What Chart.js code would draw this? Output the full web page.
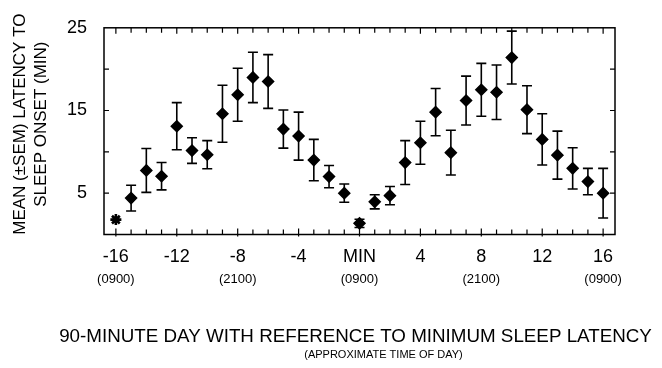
<!DOCTYPE html>
<html>
<head>
<meta charset="utf-8">
<title>Sleep latency</title>
<script src="https://cdn.jsdelivr.net/npm/chart.js@4.4.1/dist/chart.umd.min.js"></script>
<style>
    html, body { margin: 0; padding: 0; background: #fff; }
    #wrap { position: relative; width: 662px; height: 368px; }
</style>
</head>
<body>
<div id="wrap"><canvas id="latencyChart"></canvas></div>
<script>
// 90-minute days relative to the minimum
var days = [ -16, -15, -14, -13, -12, -11, -10, -9, -8, -7, -6, -5, -4, -3, -2, -1, 0,
             1, 2, 3, 4, 5, 6, 7, 8, 9, 10, 11, 12, 13, 14, 15, 16 ];
// mean latency to sleep onset (min)
var latency = [ 1.8, 4.4, 7.75, 7.05, 13.1, 10.15, 9.65, 14.6, 16.9, 19.0, 18.5, 12.75, 11.9, 9.0, 7.0, 5.0, 1.35,
                3.95, 4.7, 8.7, 11.1, 14.8, 9.9, 16.2, 17.5, 17.2, 21.4, 15.1, 11.5, 9.6, 8.0, 6.4, 5.0 ];
// +/- SEM
var sem = [ 0, 1.55, 2.65, 1.65, 2.85, 1.55, 1.7, 3.45, 3.2, 3.05, 3.25, 2.3, 2.9, 2.5, 1.35, 1.1, 0.5,
            0.85, 1.1, 2.65, 2.6, 2.85, 2.7, 2.95, 3.2, 3.3, 3.2, 2.9, 3.1, 2.9, 2.5, 1.6, 3.0 ];

var dayTicks = [ -16, -12, -8, -4, 0, 4, 8, 12, 16 ];
var dayLabels = [ "-16", "-12", "-8", "-4", "MIN", "4", "8", "12", "16" ];
var clockTicks = [ -16, -8, 0, 8, 16 ];
var clockLabels = [ "(0900)", "(2100)", "(0900)", "(2100)", "(0900)" ];
var latencyTicks = [ 5, 15, 25 ];

var xTitle = "90-MINUTE DAY WITH REFERENCE TO MINIMUM SLEEP LATENCY";
var xSubtitle = "(APPROXIMATE TIME OF DAY)";
var yTitle = [ "MEAN (\u00b1SEM) LATENCY TO", "SLEEP ONSET (MIN)" ];

( function () {
    "use strict";

    var FONT = "'Liberation Sans', Arial, Helvetica, sans-serif";

    var points = days.map( function ( d, i ) {
        return { x: d, y: latency[ i ] };
    } );
    var styles = days.map( function ( d, i ) {
        return sem[ i ] === 0 ? 'star' : 'rectRot';
    } );
    var borders = days.map( function ( d, i ) {
        return sem[ i ] === 0 ? 2.6 : 1.5;
    } );

    // error bars, drawn under the markers
    var errorBars = {
        id: 'errorBars',
        beforeDatasetsDraw: function ( chart ) {
            var ctx = chart.ctx, xs = chart.scales.x, ys = chart.scales.y;
            ctx.save();
            ctx.strokeStyle = '#000';
            ctx.lineWidth = 1.6;
            for ( var i = 0; i < days.length; i++ ) {
                if ( !sem[ i ] ) continue;
                var px = xs.getPixelForValue( days[ i ] );
                var top = ys.getPixelForValue( latency[ i ] + sem[ i ] );
                var bot = ys.getPixelForValue( latency[ i ] - sem[ i ] );
                ctx.beginPath();
                ctx.moveTo( px, top ); ctx.lineTo( px, bot );
                ctx.moveTo( px - 5, top ); ctx.lineTo( px + 5, top );
                ctx.moveTo( px - 5, bot ); ctx.lineTo( px + 5, bot );
                ctx.stroke();
            }
            ctx.restore();
        }
    };

    // box round the plot with inward ticks
    var frame = {
        id: 'frame',
        afterDraw: function ( chart ) {
            var ctx = chart.ctx, a = chart.chartArea, xs = chart.scales.x, ys = chart.scales.y;
            ctx.save();
            ctx.strokeStyle = '#000';
            ctx.lineWidth = 1.5;
            ctx.strokeRect( a.left, a.top, a.right - a.left, a.bottom - a.top );
            ctx.lineWidth = 1.2;
            ctx.beginPath();
            for ( var d = -16; d <= 16; d++ ) {
                var px = xs.getPixelForValue( d );
                var len = d % 4 === 0 ? 6 : 5;
                ctx.moveTo( px, a.bottom + ( d % 4 === 0 ? 2 : 0 ) ); ctx.lineTo( px, a.bottom - len );
                ctx.moveTo( px, a.top ); ctx.lineTo( px, a.top + len );
            }
            for ( var v = 5; v < 25; v += 5 ) {
                var py = ys.getPixelForValue( v );
                ctx.moveTo( a.left, py ); ctx.lineTo( a.left + 5, py );
                ctx.moveTo( a.right, py ); ctx.lineTo( a.right - 5, py );
            }
            ctx.stroke();
            ctx.restore();
        }
    };

    // axis captions; the axis titles would squeeze them to the axis length
    var captions = {
        id: 'captions',
        afterDraw: function ( chart ) {
            var ctx = chart.ctx, a = chart.chartArea;
            var cx = ( a.left + a.right ) / 2;
            ctx.save();
            ctx.fillStyle = '#000';
            ctx.textBaseline = 'middle';
            ctx.textAlign = 'center';
            ctx.font = '18.8px ' + FONT;
            ctx.fillText( xTitle, cx - 4, a.bottom + 102.5 );
            ctx.font = '11px ' + FONT;
            ctx.fillText( xSubtitle, cx + 24, a.bottom + 120 );
            ctx.translate( 0, ( a.top + a.bottom ) / 2 - 7 );
            ctx.rotate( -Math.PI / 2 );
            ctx.font = '17px ' + FONT;
            ctx.fillText( yTitle[ 0 ], 0, 20 );
            ctx.fillText( yTitle[ 1 ], 0, 41 );
            ctx.restore();
        }
    };

    var ctx = document.getElementById( "latencyChart" );
    var myChart = new Chart( ctx, {
        type: 'scatter',
        data: {
            datasets: [ {
                data: points,
                pointStyle: styles,
                pointRadius: 5.5,
                pointBorderWidth: borders,
                backgroundColor: '#000',
                borderColor: '#000'
            } ]
        },
        options: {
            responsive: true,
            maintainAspectRatio: false,
            animation: false,
            layout: { padding: { left: 0, right: 47, top: 19, bottom: 0 } },
            plugins: {
                legend: { display: false },
                tooltip: { enabled: false }
            },
            scales: {
                x: {
                    type: 'linear',
                    position: 'bottom',
                    min: -16.78,
                    max: 16.78,
                    grid: { display: false, drawTicks: false },
                    border: { display: false },
                    afterBuildTicks: function ( scale ) {
                        scale.ticks = dayTicks.map( function ( v ) { return { value: v }; } );
                    },
                    afterFit: function ( scale ) { scale.height = 28; },
                    ticks: {
                        autoSkip: false,
                        maxRotation: 0,
                        padding: 11.5,
                        color: '#000',
                        font: { family: FONT, size: 18 },
                        callback: function ( value ) {
                            return dayLabels[ dayTicks.indexOf( value ) ];
                        }
                    }
                },
                x2: {
                    type: 'linear',
                    position: 'bottom',
                    min: -16.78,
                    max: 16.78,
                    grid: { display: false, drawTicks: false },
                    border: { display: false },
                    afterBuildTicks: function ( scale ) {
                        scale.ticks = clockTicks.map( function ( v ) { return { value: v }; } );
                    },
                    afterFit: function ( scale ) { scale.height = 105.5; },
                    ticks: {
                        autoSkip: false,
                        maxRotation: 0,
                        padding: 9.5,
                        color: '#000',
                        font: { family: FONT, size: 13 },
                        callback: function ( value ) {
                            return clockLabels[ clockTicks.indexOf( value ) ];
                        }
                    }
                },
                y: {
                    type: 'linear',
                    position: 'left',
                    min: 0,
                    max: 25,
                    grid: { display: false, drawTicks: false },
                    border: { display: false },
                    afterBuildTicks: function ( scale ) {
                        scale.ticks = latencyTicks.map( function ( v ) { return { value: v }; } );
                    },
                    afterFit: function ( scale ) { scale.width = 104; },
                    ticks: {
                        padding: 17,
                        color: '#000',
                        font: { family: FONT, size: 18 }
                    }
                }
            }
        },
        plugins: [ errorBars, frame, captions ]
    } );

} )();
</script>
</body>
</html>
